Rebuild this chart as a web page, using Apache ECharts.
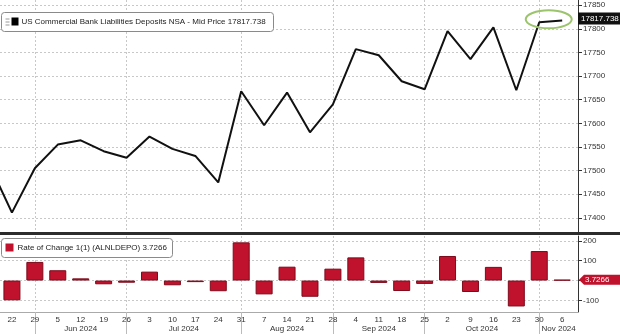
<!DOCTYPE html>
<html><head><meta charset="utf-8">
<script src="https://cdn.jsdelivr.net/npm/echarts@6/dist/echarts.min.js"></script>
<style>html,body{margin:0;padding:0;background:#fff;overflow:hidden}#c{width:620px;height:334px}</style>
</head><body><div id="c"></div>
<script>
// ---- data ----
const weekDates = ['2024-05-15','2024-05-22','2024-05-29','2024-06-05','2024-06-12','2024-06-19','2024-06-26',
  '2024-07-03','2024-07-10','2024-07-17','2024-07-24','2024-07-31','2024-08-07','2024-08-14','2024-08-21',
  '2024-08-28','2024-09-04','2024-09-11','2024-09-18','2024-09-25','2024-10-02','2024-10-09','2024-10-16',
  '2024-10-23','2024-10-30','2024-11-06'];
const deposits = [17515,17411,17505,17555,17564,17541,17527,17572,17546,17531,17475,17668,17596,17665,17581,
  17640,17757,17744,17689,17672,17795,17736,17803,17670,17814,17817.738];
const rateOfChange = [-100,94,52,11,-19,-11,45,-24,-8,-54,193,-70,70,-82,60,117,-12,-53,-17,124,-58,69,-131,149,3.7266];
const dayLabels = ['22','29','5','12','19','26','3','10','17','24','31','7','14','21','28','4','11','18','25','2','9','16','23','30','6'];
const monthLabels = ['Jun 2024','Jul 2024','Aug 2024','Sep 2024','Oct 2024','Nov 2024'];
const monthBreakWeeks = [1,5,10,14,18,23];
const depositTicks = [17400,17450,17500,17550,17600,17650,17700,17750,17800,17850];
const rocTicks = [-100,0,100,200];
const depositName = 'US Commercial Bank Liabilities Deposits NSA - Mid Price';
const rocName = 'Rate of Change 1(1) (ALNLDEPO)';

// ---- chart ----
const FONT = 'Liberation Sans';
const X_MIN = -0.52, X_MAX = 24.69;
const lineData = deposits.map((v, k) => [k - 1, v]);
const barData = rateOfChange.map((v, k) => [k, v]);
const weekIdx = dayLabels.map((d, i) => i);
const monthMid = monthBreakWeeks.map((b, i) => (b + (i + 1 < monthBreakWeeks.length ? monthBreakWeeks[i + 1] : X_MAX)) / 2);

const grid = (o) => Object.assign({left: 0, right: 42, containLabel: false, show: false}, o);
const dotted = {show: true, lineStyle: {color: '#c8c8c8', type: [2, 2], width: 1}};
const plain = v => String(v);

const chart = echarts.init(document.getElementById('c'), null, {renderer: 'canvas'});
const option = {
  animation: false,
  backgroundColor: '#fff',
  grid: [grid({top: 0, height: 232}), grid({top: 236, height: 76})],
  xAxis: [
    {type: 'value', gridIndex: 0, min: X_MIN, max: X_MAX, axisLine: {show: false, onZero: false},
     axisTick: {show: false, customValues: monthBreakWeeks}, axisLabel: {show: false}, splitLine: dotted},
    {type: 'value', gridIndex: 1, min: X_MIN, max: X_MAX,
     axisLine: {show: true, onZero: false, lineStyle: {color: '#aaa'}},
     axisTick: {show: true, customValues: monthBreakWeeks, length: 22, lineStyle: {color: '#bbb'}},
     axisLabel: {customValues: weekIdx, formatter: v => dayLabels[Math.round(v)], fontFamily: FONT, fontSize: 8, color: '#333', margin: 4},
     splitLine: dotted},
    {type: 'value', gridIndex: 1, min: X_MIN, max: X_MAX, position: 'bottom',
     axisLine: {show: false, onZero: false}, axisTick: {show: false}, splitLine: {show: false},
     axisLabel: {customValues: monthMid, formatter: v => monthLabels[monthMid.findIndex(m => Math.abs(m - v) < 1e-6)], fontFamily: FONT, fontSize: 8, color: '#333', margin: 13}}
  ],
  yAxis: [
    {type: 'value', gridIndex: 0, position: 'right', min: 17370, max: 17861,
     axisLine: {show: true, onZero: false, lineStyle: {color: '#333'}},
     axisTick: {show: true, customValues: depositTicks, length: 4, lineStyle: {color: '#333'}},
     axisLabel: {customValues: depositTicks, formatter: plain, fontFamily: FONT, fontSize: 8, color: '#333', margin: 5},
     splitLine: dotted},
    {type: 'value', gridIndex: 1, position: 'right', min: -159, max: 225,
     axisLine: {show: true, onZero: false, lineStyle: {color: '#333'}},
     axisTick: {show: true, customValues: rocTicks, length: 4, lineStyle: {color: '#333'}},
     axisLabel: {customValues: rocTicks, formatter: plain, fontFamily: FONT, fontSize: 8, color: '#333', margin: 5},
     splitLine: dotted}
  ],
  series: [
    {type: 'line', xAxisIndex: 0, yAxisIndex: 0, data: lineData, showSymbol: false, clip: true,
     lineStyle: {color: '#111', width: 2}, z: 5},
    {type: 'bar', xAxisIndex: 1, yAxisIndex: 1, data: barData, barWidth: 17, clip: true,
     itemStyle: {color: '#c0122c', borderColor: '#7e0b1c', borderWidth: 1}}
  ]
};
chart.setOption(option);

// annotations positioned from data through the chart's scales
const last = deposits[deposits.length - 1];
const lastIdx = deposits.length - 2;
const pTop = chart.convertToPixel({xAxisIndex: 0, yAxisIndex: 0}, [lastIdx, last]);
const pPrev = chart.convertToPixel({xAxisIndex: 0, yAxisIndex: 0}, [lastIdx - 1, deposits[deposits.length - 2]]);
const rocLast = rateOfChange[rateOfChange.length - 1];
const pRoc = chart.convertToPixel({xAxisIndex: 1, yAxisIndex: 1}, [lastIdx, rocLast]);
const axisX = chart.convertToPixel({xAxisIndex: 0, yAxisIndex: 0}, [X_MAX, last])[0];

const graphics = [
  {type: 'rect', shape: {x: 0, y: 232, width: 620, height: 3}, style: {fill: '#2b2b2b'}, z: 50},
  // top legend
  {type: 'group', left: 1, top: 12, z: 60, children: [
    {type: 'rect', shape: {x: 0, y: 0, width: 272, height: 19, r: 3}, style: {fill: '#fff', stroke: '#8a8a8a', lineWidth: 1}},
    {type: 'rect', shape: {x: 4, y: 6, width: 4, height: 1}, style: {fill: '#999'}},
    {type: 'rect', shape: {x: 4, y: 9, width: 4, height: 1}, style: {fill: '#999'}},
    {type: 'rect', shape: {x: 4, y: 12, width: 4, height: 1}, style: {fill: '#999'}},
    {type: 'rect', shape: {x: 10, y: 5, width: 7, height: 8}, style: {fill: '#000'}},
    {type: 'text', x: 20, y: 9.5, style: {text: depositName + ' ' + last.toFixed(3), fontFamily: FONT, fontSize: 8, fill: '#222', verticalAlign: 'middle'}}
  ]},
  // bottom legend
  {type: 'group', left: 1, top: 238, z: 60, children: [
    {type: 'rect', shape: {x: 0, y: 0, width: 171, height: 19, r: 3}, style: {fill: '#fff', stroke: '#8a8a8a', lineWidth: 1}},
    {type: 'rect', shape: {x: 4, y: 5, width: 8, height: 8}, style: {fill: '#c0122c'}},
    {type: 'text', x: 16, y: 9.5, style: {text: rocName + ' ' + rocLast.toFixed(4), fontFamily: FONT, fontSize: 8, fill: '#222', verticalAlign: 'middle'}}
  ]},
  // last value label top
  {type: 'rect', shape: {x: axisX, y: pTop[1] - 8, width: 620 - axisX, height: 12}, style: {fill: '#111'}, z: 60},
  {type: 'text', x: axisX + 3, y: pTop[1] - 2, style: {text: last.toFixed(3), fontFamily: FONT, fontSize: 8, fill: '#fff', verticalAlign: 'middle'}, z: 61},
  // last value label bottom
  {type: 'polygon', shape: {points: [[axisX + 1, pRoc[1]], [axisX + 6, pRoc[1] - 5], [620, pRoc[1] - 5], [620, pRoc[1] + 5], [axisX + 6, pRoc[1] + 5]]}, style: {fill: '#c0122c'}, z: 60},
  {type: 'text', x: axisX + 7, y: pRoc[1], style: {text: rocLast.toFixed(4), fontFamily: FONT, fontSize: 8, fill: '#fff', verticalAlign: 'middle'}, z: 61},
  // highlight ellipse
  {type: 'ellipse', shape: {cx: (pTop[0] + pPrev[0]) / 2 - 2, cy: (pTop[1] + pPrev[1]) / 2 - 2, rx: 23, ry: 9}, style: {fill: 'none', stroke: '#9cc46c', lineWidth: 2}, z: 55}
];
chart.setOption({graphic: graphics});
</script></body></html>
